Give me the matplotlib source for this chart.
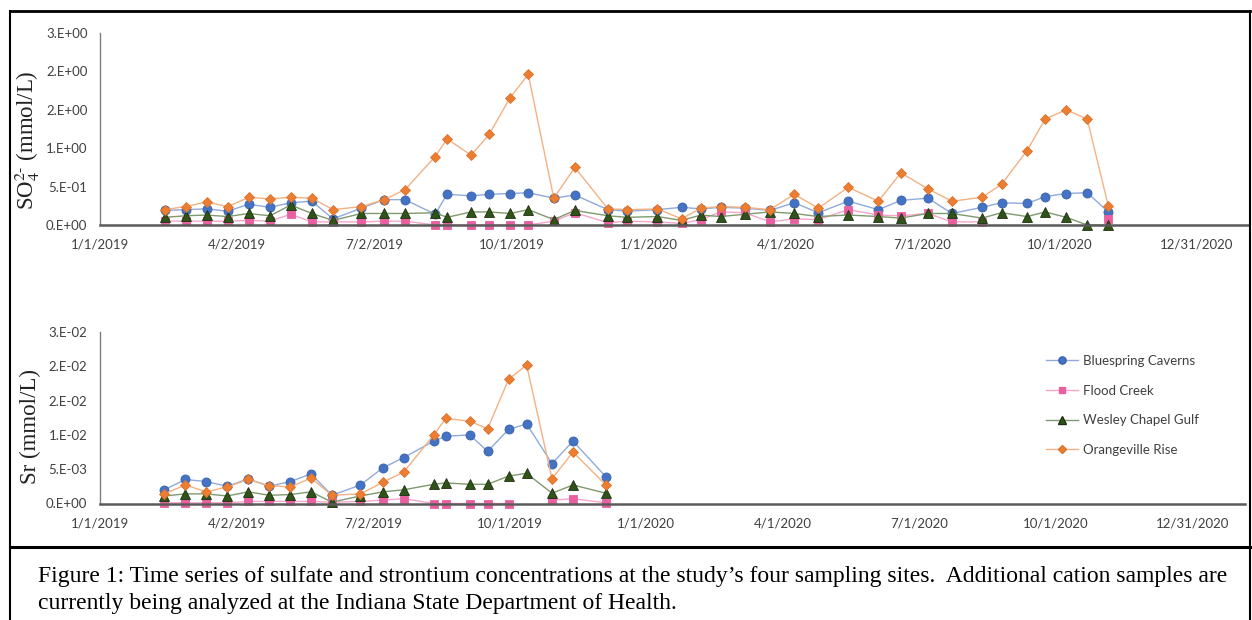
import matplotlib
matplotlib.use("Agg")
import matplotlib.pyplot as plt
import numpy as np
import pandas as pd
from matplotlib.lines import Line2D

# ---------------- data ----------------
sample_dates = [
    "2019-02-13", "2019-02-27", "2019-03-13", "2019-03-27", "2019-04-10", "2019-04-24",
    "2019-05-08", "2019-05-22", "2019-06-05", "2019-06-24", "2019-07-09", "2019-07-23",
    "2019-08-12", "2019-08-20", "2019-09-05", "2019-09-17", "2019-10-01", "2019-10-13",
    "2019-10-30", "2019-11-13", "2019-12-05", "2019-12-18", "2020-01-07", "2020-01-23",
    "2020-02-05", "2020-02-18", "2020-03-05", "2020-03-22", "2020-04-07", "2020-04-23",
    "2020-05-13", "2020-06-02", "2020-06-17", "2020-07-05", "2020-07-21", "2020-08-10",
    "2020-08-23", "2020-09-09", "2020-09-21", "2020-10-05", "2020-10-19", "2020-11-02",
]

nan = np.nan
so4_bluespring = [0.19, 0.20, 0.21, 0.18, 0.27, 0.23, 0.29, 0.31, 0.08, 0.22, 0.33, 0.33,
                  0.14, 0.40, 0.38, 0.40, 0.41, 0.42, 0.35, 0.39, 0.20, 0.18, 0.20, 0.23,
                  0.21, 0.23, 0.22, 0.19, 0.29, 0.16, 0.31, 0.20, 0.32, 0.35, 0.15, 0.23,
                  0.29, 0.28, 0.37, 0.41, 0.42, 0.17]
so4_flood = [0.05, 0.05, 0.05, 0.05, 0.06, 0.05, 0.14, 0.04, 0.04, 0.04, 0.05, 0.05,
             0.0, 0.0, 0.0, 0.0, 0.0, 0.0, 0.05, 0.16, 0.03, 0.05, 0.04, 0.02,
             0.07, 0.17, 0.16, 0.04, 0.08, 0.07, 0.20, 0.13, 0.12, 0.15, 0.04, 0.04,
             nan, nan, nan, nan, nan, 0.08]
so4_wesley = [0.10, 0.12, 0.13, 0.11, 0.15, 0.12, 0.26, 0.15, 0.06, 0.15, 0.15, 0.15,
              0.16, 0.10, 0.17, 0.17, 0.15, 0.20, 0.07, 0.19, 0.12, 0.10, 0.11, 0.06,
              0.13, 0.11, 0.14, 0.17, 0.15, 0.11, 0.13, 0.11, 0.09, 0.15, 0.15, 0.09,
              0.16, 0.11, 0.17, 0.10, 0.0, 0.0]
so4_orange = [0.20, 0.24, 0.30, 0.24, 0.36, 0.34, 0.36, 0.35, 0.20, 0.24, 0.33, 0.46,
              0.89, 1.12, 0.91, 1.18, 1.66, 1.96, 0.35, 0.75, 0.21, 0.20, 0.21, 0.08,
              0.22, 0.24, 0.23, 0.20, 0.40, 0.22, 0.49, 0.31, 0.68, 0.47, 0.31, 0.36,
              0.53, 0.97, 1.38, 1.50, 1.38, 0.25]

sr_bluespring = [0.0020, 0.0035, 0.0032, 0.0025, 0.0036, 0.0025, 0.0032, 0.0043, 0.0012,
                 0.0027, 0.0052, 0.0067, 0.0091, 0.0098, 0.0100, 0.0076, 0.0108, 0.0116,
                 0.0058, 0.0091, 0.0039]
sr_flood = [0.0001, 0.0001, 0.0001, 0.0001, 0.0003, 0.0003, 0.0003, 0.0003, 0.0002,
            0.0003, 0.0005, 0.0007, 0.0, 0.0, 0.0, 0.0, 0.0, nan,
            0.0005, 0.0007, 0.0001]
sr_wesley = [0.0011, 0.0014, 0.0014, 0.0011, 0.0017, 0.0012, 0.0013, 0.0017, 0.0002,
             0.0011, 0.0017, 0.0020, 0.0028, 0.0030, 0.0028, 0.0028, 0.0040, 0.0044,
             0.0015, 0.0027, 0.0015]
sr_orange = [0.0014, 0.0027, 0.0017, 0.0024, 0.0035, 0.0026, 0.0024, 0.0037, 0.0012,
             0.0014, 0.0031, 0.0046, 0.0100, 0.0124, 0.0120, 0.0109, 0.0181, 0.0202,
             0.0036, 0.0075, 0.0027]

series_names = ["Bluespring Caverns", "Flood Creek", "Wesley Chapel Gulf", "Orangeville Rise"]

x_tick_labels = ["1/1/2019", "4/2/2019", "7/2/2019", "10/1/2019", "1/1/2020",
                 "4/1/2020", "7/1/2020", "10/1/2020", "12/31/2020"]
so4_tick_labels = ["0.E+00", "5.E-01", "1.E+00", "2.E+00", "2.E+00", "3.E+00"]
sr_tick_labels = ["0.E+00", "5.E-03", "1.E-02", "2.E-02", "2.E-02", "3.E-02"]

caption = ("Figure 1: Time series of sulfate and strontium concentrations at the study\u2019s four sampling sites.  "
           "Additional cation samples are\ncurrently being analyzed at the Indiana State Department of Health.")

# ---------------- styling ----------------
plt.rcParams["mathtext.fontset"] = "stix"

styles = [
    dict(color="#8FAADC", marker="o", mfc="#4472C4", mec="#3A62A8", ms=6.5),
    dict(color="#F4A6C8", marker="s", mfc="#E8609F", mec="#E8609F", ms=5.5),
    dict(color="#7F9A6E", marker="^", mfc="#2E5418", mec="#1E2E12", ms=6.5),
    dict(color="#F4B183", marker="D", mfc="#ED7D31", mec="#D9742E", ms=5.5),
]

tick_font = dict(family=["Lato", "DejaVu Sans"], size=9.5, color="#404040")

dates = pd.to_datetime(sample_dates)
start = pd.Timestamp("2019-01-01")
tick_pos = [start + pd.Timedelta(days=91.25 * k) for k in range(len(x_tick_labels))]

fig = plt.figure(figsize=(12.52, 6.2), dpi=100)


def setup(ax, ylim, ylabels, xmax_days, ylabel, label_xy):
    ax.set_xlim(start, start + pd.Timedelta(days=xmax_days))
    ax.set_ylim(0, ylim)
    ax.set_yticks(np.linspace(0, ylim, len(ylabels)))
    ax.set_yticklabels(ylabels, fontdict=tick_font)
    ax.set_xticks(tick_pos)
    ax.set_xticklabels(x_tick_labels, fontdict=tick_font)
    for s in ["top", "right"]:
        ax.spines[s].set_visible(False)
    ax.spines["left"].set_color("#7F7F7F")
    ax.spines["left"].set_linewidth(1.0)
    ax.spines["bottom"].set_color("#5A5A5A")
    ax.spines["bottom"].set_linewidth(1.8)
    ax.tick_params(length=0, pad=9, axis="y")
    ax.tick_params(length=0, pad=10, axis="x")
    ax.set_ylabel(ylabel, family=["Liberation Serif"], fontsize=16.5, color="#222222")
    ax.yaxis.set_label_coords(*label_xy)
    ax.patch.set_alpha(0)


ax1 = fig.add_axes([100 / 1252, 395 / 620, 1148 / 1252, 192 / 620])
setup(ax1, 2.5, so4_tick_labels, 764, r"SO$_4^{2\text{-}}$ (mmol/L)",
      ((42 - 100) / 1148, (225 - 140) / 192))
for vals, st in zip([so4_bluespring, so4_flood, so4_wesley, so4_orange], styles):
    ax1.plot(dates, vals, color=st["color"], lw=1.0, marker=st["marker"], ms=st["ms"],
             mfc=st["mfc"], mec=st["mec"], mew=0.6, clip_on=False)

ax2 = fig.add_axes([100 / 1252, 116.5 / 620, 1145 / 1252, 171.5 / 620])
setup(ax2, 0.025, sr_tick_labels, 765, "Sr (mmol/L)",
      ((41 - 100) / 1145, (503.5 - 426) / 171.5))
n = len(sr_bluespring)
handles = []
for vals, st, name in zip([sr_bluespring, sr_flood, sr_wesley, sr_orange], styles, series_names):
    ax2.plot(dates[:n], vals, color=st["color"], lw=1.0, marker=st["marker"], ms=st["ms"],
             mfc=st["mfc"], mec=st["mec"], mew=0.6, clip_on=False)
    handles.append(Line2D([], [], color=st["color"], lw=1.0, marker=st["marker"],
                          ms=st["ms"] * 0.8, mfc=st["mfc"], mec=st["mec"], label=name))
ax2.legend(handles=handles, loc="upper left", bbox_to_anchor=(0.816, 0.935), frameon=False,
           prop=dict(family=["Lato", "DejaVu Sans"], size=9.5), labelspacing=1.33,
           handlelength=2.4, handletextpad=0.4, labelcolor="#404040")

# frame and caption
fig.add_artist(Line2D([10 / 1252, 10 / 1252], [0, 1 - 11 / 620], transform=fig.transFigure,
                      color="black", lw=1.5))
fig.add_artist(Line2D([10 / 1252, 1250 / 1252], [1 - 11 / 620, 1 - 11 / 620],
                      transform=fig.transFigure, color="black", lw=2))
fig.add_artist(Line2D([1250 / 1252, 1250 / 1252], [1 - 11 / 620, 0], transform=fig.transFigure,
                      color="black", lw=1.5))
fig.add_artist(Line2D([10 / 1252, 1250 / 1252], [1 - 547 / 620, 1 - 547 / 620],
                      transform=fig.transFigure, color="black", lw=2.2))
fig.text(38 / 1252, 1 - 566 / 620, caption, family=["Liberation Serif"], fontsize=17,
         va="top", ha="left", color="black", linespacing=1.36)

fig.savefig("out.png", dpi=100)
